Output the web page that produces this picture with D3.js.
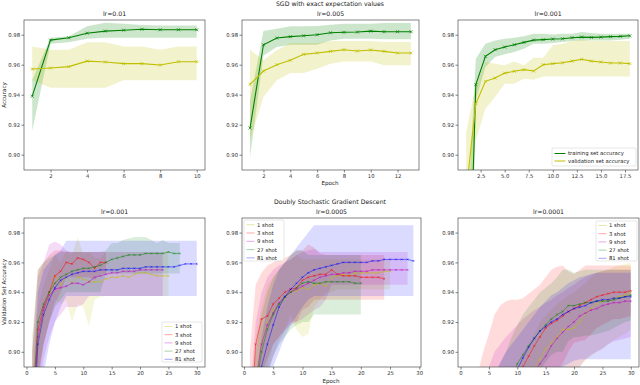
<!DOCTYPE html>
<html>
<head>
<meta charset="utf-8">
<script src="https://cdn.jsdelivr.net/npm/d3@7"></script>
<style>
  body { margin: 0; background: #fff; }
  text { font-family: "DejaVu Sans", sans-serif; }
</style>
</head>
<body>
<div id="chart"></div>
<script>
// ---- SGD with exact expectation values (top row) ----
// lr=0.01, epochs 1..10
const p1TrainMean = [0.939, 0.9764, 0.978, 0.981, 0.9824, 0.983, 0.9836, 0.9833, 0.9833, 0.9833];
const p1TrainLo   = [0.916, 0.974, 0.975, 0.9773, 0.978, 0.978, 0.978, 0.978, 0.978, 0.978];
const p1TrainHi   = [0.9496, 0.978, 0.979, 0.9856, 0.988, 0.9873, 0.9864, 0.9862, 0.9862, 0.9862];
const p1ValMean   = [0.9571, 0.9578, 0.9587, 0.9624, 0.9618, 0.9607, 0.9607, 0.9598, 0.962, 0.962];
const p1ValLo     = [0.9496, 0.9447, 0.9447, 0.9447, 0.9447, 0.9496, 0.9496, 0.9496, 0.9496, 0.9496];
const p1ValHi     = [0.9722, 0.97, 0.97, 0.975, 0.975, 0.9722, 0.9722, 0.97, 0.9722, 0.9722];

// lr=0.005, epochs 1..13
const p2TrainMean = [0.9178, 0.9733, 0.9778, 0.9787, 0.9793, 0.98, 0.9813, 0.9816, 0.9818, 0.9824, 0.982, 0.982, 0.982];
const p2TrainLo   = [0.8984, 0.9662, 0.9718, 0.9733, 0.9733, 0.9733, 0.9762, 0.9773, 0.9773, 0.9773, 0.9769, 0.9769, 0.9769];
const p2TrainHi   = [0.9362, 0.9824, 0.984, 0.9856, 0.9856, 0.9858, 0.9867, 0.9873, 0.9873, 0.9873, 0.9878, 0.9878, 0.9878];
const p2ValMean   = [0.9469, 0.9558, 0.96, 0.9629, 0.9669, 0.9678, 0.9689, 0.97, 0.9691, 0.9698, 0.9689, 0.9678, 0.9678];
const p2ValLo     = [0.9096, 0.9384, 0.9496, 0.9544, 0.9544, 0.9573, 0.9607, 0.9622, 0.9622, 0.9622, 0.9596, 0.9596, 0.9596];
const p2ValHi     = [0.97, 0.9629, 0.9696, 0.9744, 0.9744, 0.9744, 0.9758, 0.9758, 0.9758, 0.9758, 0.9751, 0.9751, 0.9751];

// lr=0.001, epochs 1..18
const p3TrainMean = [0.73, 0.9467, 0.9656, 0.97, 0.9718, 0.9733, 0.9749, 0.9764, 0.9767, 0.9771, 0.9773, 0.978, 0.9784, 0.9782, 0.9784, 0.9787, 0.9789, 0.9793];
const p3TrainLo   = [0.62, 0.9362, 0.9584, 0.9651, 0.9669, 0.9684, 0.9707, 0.974, 0.974, 0.9744, 0.9751, 0.9758, 0.9762, 0.9762, 0.9762, 0.9762, 0.9767, 0.9773];
const p3TrainHi   = [0.84, 0.964, 0.974, 0.9762, 0.9773, 0.978, 0.9789, 0.9807, 0.9807, 0.9802, 0.9807, 0.9807, 0.9818, 0.9811, 0.9807, 0.9807, 0.9807, 0.9807];
const p3ValMean   = [0.875, 0.934, 0.9489, 0.9511, 0.9544, 0.9556, 0.9567, 0.9558, 0.96, 0.9607, 0.9613, 0.9624, 0.9636, 0.9624, 0.9618, 0.9611, 0.9611, 0.9607];
const p3ValLo     = [0.84, 0.9096, 0.9307, 0.9384, 0.9473, 0.9473, 0.9507, 0.95, 0.9522, 0.9522, 0.9522, 0.9522, 0.9522, 0.9522, 0.9522, 0.9522, 0.9522, 0.9522];
const p3ValHi     = [0.9151, 0.9462, 0.9618, 0.9607, 0.9596, 0.9622, 0.9596, 0.9647, 0.9647, 0.9729, 0.974, 0.9758, 0.9767, 0.9758, 0.9758, 0.9758, 0.9758, 0.9758];

// ---- Doubly Stochastic Gradient Descent (bottom row) ----
// lr=0.001
const p4Shot1Mean  = [0.84, 0.905, 0.925, 0.938, 0.951, 0.945, 0.95, 0.946, 0.95, 0.949, 0.947, 0.947, 0.947, 0.949, 0.95, 0.95, 0.951, 0.95, 0.952, 0.953, 0.953, 0.952, 0.951, 0.951, 0.951];
const p4Shot1Lo    = [0.78, 0.88, 0.905, 0.92, 0.935, 0.932, 0.935, 0.92, 0.932, 0.93, 0.917, 0.935, 0.937, 0.9375, 0.9375, 0.9375, 0.9375, 0.9375, 0.9375, 0.9375, 0.9375, 0.9375, 0.9375, 0.9375, 0.9375];
const p4Shot1Hi    = [0.9, 0.93, 0.945, 0.955, 0.965, 0.96, 0.968, 0.965, 0.977, 0.966, 0.967, 0.963, 0.963, 0.967, 0.967, 0.967, 0.967, 0.967, 0.967, 0.967, 0.967, 0.967, 0.967, 0.967, 0.967];
const p4Shot3Mean  = [0.85, 0.915, 0.93, 0.94, 0.951, 0.954, 0.96, 0.959, 0.963, 0.962, 0.96, 0.956, 0.96, 0.96];
const p4Shot3Lo    = [0.8, 0.88, 0.905, 0.92, 0.932, 0.94, 0.95, 0.95, 0.95, 0.95, 0.95, 0.948, 0.952, 0.952];
const p4Shot3Hi    = [0.9, 0.955, 0.96, 0.965, 0.968, 0.968, 0.967, 0.967, 0.967, 0.967, 0.967, 0.967, 0.967, 0.967];
const p4Shot9Mean  = [0.85, 0.91, 0.928, 0.938, 0.942, 0.943, 0.944, 0.946, 0.946, 0.945, 0.947, 0.95, 0.951, 0.952, 0.953, 0.953, 0.954, 0.954, 0.954, 0.955, 0.955, 0.955, 0.955, 0.955];
const p4Shot9Lo    = [0.8, 0.87, 0.895, 0.91, 0.92, 0.925, 0.93, 0.93, 0.93, 0.932, 0.9375, 0.9375, 0.9375, 0.9375, 0.9375, 0.9375, 0.9375, 0.9375, 0.9375, 0.9375, 0.9375, 0.9375, 0.9375, 0.9375];
const p4Shot9Hi    = [0.9, 0.95, 0.96, 0.972, 0.974, 0.972, 0.968, 0.967, 0.967, 0.967, 0.967, 0.967, 0.967, 0.967, 0.967, 0.967, 0.967, 0.967, 0.967, 0.967, 0.967, 0.967, 0.967, 0.967];
const p4Shot27Mean = [0.86, 0.92, 0.932, 0.94, 0.946, 0.95, 0.952, 0.954, 0.955, 0.956, 0.956, 0.957, 0.958, 0.96, 0.962, 0.963, 0.964, 0.965, 0.965, 0.965, 0.966, 0.966, 0.966, 0.966, 0.967, 0.966, 0.966];
const p4Shot27Lo   = [0.81, 0.885, 0.905, 0.92, 0.93, 0.935, 0.94, 0.94, 0.94, 0.94, 0.94, 0.94, 0.94, 0.9525, 0.9525, 0.9525, 0.9525, 0.9525, 0.9525, 0.9525, 0.9525, 0.9525, 0.9525, 0.9525, 0.9525, 0.9525, 0.9525];
const p4Shot27Hi   = [0.91, 0.955, 0.96, 0.963, 0.965, 0.967, 0.967, 0.967, 0.967, 0.967, 0.967, 0.967, 0.967, 0.968, 0.973, 0.973, 0.975, 0.976, 0.977, 0.977, 0.977, 0.975, 0.973, 0.975, 0.973, 0.973, 0.973];
const p4Shot81Mean = [0.83, 0.905, 0.925, 0.935, 0.943, 0.948, 0.95, 0.952, 0.953, 0.954, 0.954, 0.954, 0.955, 0.955, 0.955, 0.955, 0.956, 0.956, 0.956, 0.956, 0.957, 0.957, 0.957, 0.957, 0.957, 0.957, 0.958, 0.959, 0.959, 0.959];
const p4Shot81Lo   = [0.78, 0.86, 0.885, 0.905, 0.92, 0.93, 0.9375, 0.9375, 0.9375, 0.9375, 0.9375, 0.9375, 0.9375, 0.9375, 0.9375, 0.9375, 0.9375, 0.9375, 0.9375, 0.9375, 0.9375, 0.9375, 0.9375, 0.9375, 0.9375, 0.9375, 0.9375, 0.9375, 0.9375, 0.9375];
const p4Shot81Hi   = [0.87, 0.94, 0.955, 0.96, 0.965, 0.968, 0.9745, 0.9745, 0.9745, 0.9745, 0.9745, 0.9745, 0.9745, 0.9745, 0.9745, 0.9745, 0.9745, 0.9745, 0.9745, 0.9745, 0.9745, 0.9745, 0.9745, 0.9745, 0.9745, 0.9745, 0.9745, 0.9745, 0.9745, 0.9745];

// lr=0.0005
const p5Shot1Mean  = [0.83, 0.875, 0.905, 0.92, 0.928, 0.932, 0.936, 0.94, 0.941, 0.943, 0.942, 0.945, 0.946, 0.944, 0.95, 0.951, 0.952, 0.951, 0.953, 0.953, 0.953, 0.953, 0.953, 0.954, 0.954];
const p5Shot1Lo    = [0.8, 0.84, 0.87, 0.89, 0.905, 0.91, 0.915, 0.925, 0.915, 0.91, 0.912, 0.93, 0.935, 0.94, 0.94, 0.942, 0.942, 0.942, 0.942, 0.942, 0.942, 0.942, 0.942, 0.942, 0.942];
const p5Shot1Hi    = [0.86, 0.91, 0.93, 0.945, 0.95, 0.955, 0.96, 0.962, 0.965, 0.962, 0.962, 0.962, 0.962, 0.962, 0.962, 0.962, 0.962, 0.962, 0.962, 0.962, 0.962, 0.962, 0.962, 0.962, 0.962];
const p5Shot3Mean  = [0.84, 0.905, 0.922, 0.924, 0.932, 0.936, 0.94, 0.942, 0.943, 0.948, 0.95, 0.951, 0.952, 0.952, 0.955, 0.952, 0.951, 0.951, 0.951, 0.95, 0.95, 0.95, 0.95, 0.949];
const p5Shot3Lo    = [0.79, 0.86, 0.885, 0.895, 0.905, 0.91, 0.915, 0.92, 0.92, 0.928, 0.93, 0.935, 0.935, 0.935, 0.935, 0.935, 0.935, 0.935, 0.935, 0.935, 0.935, 0.935, 0.935, 0.935];
const p5Shot3Hi    = [0.9, 0.945, 0.953, 0.958, 0.96, 0.962, 0.963, 0.965, 0.968, 0.968, 0.972, 0.97, 0.966, 0.965, 0.965, 0.965, 0.965, 0.965, 0.965, 0.965, 0.965, 0.965, 0.965, 0.965];
const p5Shot9Mean  = [0.83, 0.88, 0.905, 0.918, 0.926, 0.933, 0.937, 0.94, 0.942, 0.944, 0.946, 0.948, 0.95, 0.951, 0.952, 0.952, 0.953, 0.953, 0.954, 0.954, 0.954, 0.955, 0.955, 0.955, 0.955, 0.955, 0.955, 0.955];
const p5Shot9Lo    = [0.79, 0.84, 0.87, 0.885, 0.897, 0.907, 0.914, 0.918, 0.92, 0.922, 0.925, 0.928, 0.93, 0.935, 0.945, 0.945, 0.945, 0.945, 0.945, 0.945, 0.945, 0.945, 0.945, 0.945, 0.945, 0.945, 0.945, 0.945];
const p5Shot9Hi    = [0.87, 0.92, 0.94, 0.95, 0.955, 0.958, 0.96, 0.962, 0.965, 0.967, 0.968, 0.969, 0.967, 0.967, 0.967, 0.967, 0.967, 0.967, 0.967, 0.967, 0.967, 0.967, 0.967, 0.967, 0.967, 0.967, 0.967, 0.967];
const p5Shot27Mean = [0.83, 0.875, 0.9, 0.915, 0.925, 0.932, 0.937, 0.94, 0.943, 0.946, 0.947, 0.946, 0.946, 0.947, 0.947, 0.947, 0.947, 0.947, 0.946, 0.946];
const p5Shot27Lo   = [0.8, 0.84, 0.87, 0.885, 0.897, 0.905, 0.91, 0.915, 0.918, 0.92, 0.92, 0.925, 0.925, 0.925, 0.925, 0.925, 0.925, 0.925, 0.925, 0.925];
const p5Shot27Hi   = [0.85, 0.9, 0.925, 0.94, 0.95, 0.955, 0.96, 0.965, 0.968, 0.968, 0.965, 0.965, 0.965, 0.965, 0.965, 0.965, 0.965, 0.965, 0.965, 0.965];
const p5Shot81Mean = [0.82, 0.86, 0.89, 0.905, 0.918, 0.93, 0.937, 0.942, 0.946, 0.95, 0.953, 0.955, 0.956, 0.957, 0.958, 0.959, 0.96, 0.96, 0.96, 0.96, 0.96, 0.961, 0.961, 0.962, 0.962, 0.962, 0.962, 0.962, 0.961];
const p5Shot81Lo   = [0.78, 0.82, 0.85, 0.87, 0.89, 0.9, 0.91, 0.918, 0.924, 0.93, 0.935, 0.9375, 0.9375, 0.9375, 0.9375, 0.9375, 0.9375, 0.9375, 0.9375, 0.9375, 0.9375, 0.9375, 0.9375, 0.9375, 0.9375, 0.9375, 0.9375, 0.9375, 0.9375];
const p5Shot81Hi   = [0.84, 0.88, 0.91, 0.93, 0.945, 0.955, 0.96, 0.965, 0.97, 0.975, 0.98, 0.985, 0.985, 0.985, 0.985, 0.985, 0.985, 0.985, 0.985, 0.985, 0.985, 0.985, 0.985, 0.985, 0.985, 0.985, 0.985, 0.985, 0.985];

// lr=0.0001, epochs 1..30
const p6Shot1Mean  = [0.70, 0.72, 0.74, 0.76, 0.78, 0.80, 0.815, 0.83, 0.842, 0.855, 0.868, 0.878, 0.888, 0.895, 0.902, 0.906, 0.91, 0.915, 0.915, 0.916, 0.92, 0.926, 0.929, 0.932, 0.934, 0.935, 0.936, 0.937, 0.938, 0.94];
const p6Shot1Lo    = [0.62, 0.64, 0.66, 0.68, 0.70, 0.72, 0.74, 0.76, 0.78, 0.80, 0.815, 0.83, 0.845, 0.855, 0.862, 0.868, 0.872, 0.878, 0.882, 0.885, 0.89, 0.894, 0.897, 0.9, 0.902, 0.905, 0.908, 0.91, 0.912, 0.915];
const p6Shot1Hi    = [0.78, 0.80, 0.82, 0.835, 0.85, 0.86, 0.87, 0.878, 0.885, 0.89, 0.898, 0.905, 0.912, 0.92, 0.924, 0.928, 0.932, 0.935, 0.938, 0.94, 0.943, 0.946, 0.95, 0.953, 0.954, 0.955, 0.957, 0.958, 0.959, 0.96];
const p6Shot3Mean  = [0.72, 0.74, 0.76, 0.78, 0.80, 0.82, 0.835, 0.85, 0.865, 0.878, 0.89, 0.897, 0.904, 0.91, 0.916, 0.919, 0.921, 0.924, 0.927, 0.929, 0.931, 0.933, 0.935, 0.937, 0.938, 0.939, 0.94, 0.94, 0.94, 0.941];
const p6Shot3Lo    = [0.61, 0.62, 0.635, 0.66, 0.69, 0.715, 0.74, 0.765, 0.795, 0.82, 0.84, 0.85, 0.86, 0.87, 0.88, 0.885, 0.888, 0.892, 0.9, 0.906, 0.907, 0.908, 0.912, 0.916, 0.918, 0.92, 0.922, 0.922, 0.923, 0.924];
const p6Shot3Hi    = [0.83, 0.86, 0.885, 0.9, 0.912, 0.925, 0.931, 0.934, 0.935, 0.935, 0.936, 0.939, 0.942, 0.945, 0.95, 0.955, 0.957, 0.958, 0.954, 0.952, 0.955, 0.958, 0.958, 0.958, 0.958, 0.958, 0.958, 0.958, 0.958, 0.958];
const p6Shot9Mean  = [0.68, 0.70, 0.72, 0.74, 0.76, 0.78, 0.80, 0.82, 0.835, 0.85, 0.862, 0.875, 0.887, 0.892, 0.897, 0.904, 0.909, 0.913, 0.917, 0.92, 0.924, 0.926, 0.928, 0.929, 0.931, 0.932, 0.933, 0.933, 0.934, 0.934];
const p6Shot9Lo    = [0.56, 0.57, 0.59, 0.61, 0.63, 0.66, 0.69, 0.72, 0.75, 0.77, 0.79, 0.81, 0.83, 0.845, 0.855, 0.862, 0.868, 0.874, 0.88, 0.885, 0.89, 0.895, 0.898, 0.9, 0.902, 0.905, 0.907, 0.908, 0.909, 0.91];
const p6Shot9Hi    = [0.80, 0.83, 0.85, 0.87, 0.89, 0.9, 0.905, 0.91, 0.914, 0.918, 0.922, 0.925, 0.928, 0.93, 0.933, 0.935, 0.938, 0.94, 0.943, 0.945, 0.948, 0.95, 0.952, 0.953, 0.954, 0.955, 0.955, 0.955, 0.955, 0.955];
const p6Shot27Mean = [0.72, 0.745, 0.77, 0.79, 0.81, 0.83, 0.85, 0.865, 0.88, 0.892, 0.898, 0.904, 0.909, 0.914, 0.918, 0.922, 0.925, 0.927, 0.931, 0.931, 0.932, 0.933, 0.933, 0.934, 0.934, 0.934, 0.935, 0.936, 0.937, 0.938];
const p6Shot27Lo   = [0.64, 0.67, 0.70, 0.72, 0.745, 0.775, 0.805, 0.83, 0.85, 0.865, 0.872, 0.878, 0.884, 0.888, 0.893, 0.898, 0.9, 0.9, 0.907, 0.91, 0.91, 0.911, 0.911, 0.912, 0.913, 0.914, 0.916, 0.918, 0.92, 0.921];
const p6Shot27Hi   = [0.80, 0.82, 0.84, 0.86, 0.875, 0.885, 0.892, 0.9, 0.91, 0.918, 0.925, 0.93, 0.935, 0.94, 0.943, 0.946, 0.95, 0.955, 0.955, 0.953, 0.954, 0.955, 0.955, 0.955, 0.955, 0.955, 0.955, 0.955, 0.955, 0.955];
const p6Shot81Mean = [0.70, 0.725, 0.75, 0.775, 0.80, 0.82, 0.84, 0.857, 0.872, 0.888, 0.896, 0.903, 0.909, 0.914, 0.917, 0.92, 0.922, 0.925, 0.927, 0.929, 0.93, 0.931, 0.933, 0.934, 0.935, 0.935, 0.936, 0.936, 0.937, 0.937];
const p6Shot81Lo   = [0.60, 0.63, 0.66, 0.69, 0.72, 0.75, 0.78, 0.80, 0.82, 0.84, 0.85, 0.857, 0.863, 0.868, 0.873, 0.88, 0.885, 0.89, 0.892, 0.894, 0.895, 0.895, 0.895, 0.895, 0.895, 0.895, 0.895, 0.895, 0.895, 0.895];
const p6Shot81Hi   = [0.80, 0.82, 0.84, 0.855, 0.87, 0.885, 0.893, 0.9, 0.905, 0.91, 0.915, 0.92, 0.925, 0.93, 0.934, 0.938, 0.94, 0.943, 0.946, 0.948, 0.95, 0.951, 0.952, 0.953, 0.953, 0.953, 0.953, 0.953, 0.953, 0.953];

const topLabels = ["training set accuracy", "validation set accuracy"];
const shotLabels = ["1 shot", "3 shot", "9 shot", "27 shot", "81 shot"];
const yTicks = [0.90, 0.92, 0.94, 0.96, 0.98];

const C = { g: "#008000", y: "#bfbf00", r: "#ff0000", m: "#bf00bf", b: "#0000ff" };
const shotColors = [C.y, C.r, C.m, C.g, C.b];

const svg = d3.select("#chart").append("svg")
  .attr("width", 640)
  .attr("height", 385);

svg.append("rect").attr("width", 640).attr("height", 385).attr("fill", "#fff");

let clipCount = 0;

function drawPanel(cfg) {
  const x = d3.scaleLinear().domain(cfg.xDomain).range([cfg.left, cfg.right]);
  const y = d3.scaleLinear().domain([0.8898, 0.9898]).range([cfg.bottom, cfg.top]);

  const clipId = "clip" + (clipCount++);
  svg.append("clipPath").attr("id", clipId)
    .append("rect")
    .attr("x", cfg.left).attr("y", cfg.top)
    .attr("width", cfg.right - cfg.left).attr("height", cfg.bottom - cfg.top);

  const g = svg.append("g").attr("clip-path", `url(#${clipId})`);

  const rows = cfg.series.map(s => s.mean.map((m, i) => ({ e: i + 1, m: m, lo: s.lo[i], hi: s.hi[i] })));

  // bands first (matplotlib puts fill_between under lines)
  cfg.series.forEach((s, k) => {
    g.append("path")
      .datum(rows[k])
      .attr("d", d3.area().x(d => x(d.e)).y0(d => y(d.lo)).y1(d => y(d.hi)))
      .attr("fill", s.color)
      .attr("fill-opacity", cfg.bandOpacity);
  });

  cfg.series.forEach((s, k) => {
    g.append("path")
      .datum(rows[k])
      .attr("d", d3.line().x(d => x(d.e)).y(d => y(d.m)))
      .attr("fill", "none")
      .attr("stroke", s.color)
      .attr("stroke-opacity", cfg.lineOpacity)
      .attr("stroke-width", cfg.lineWidth);

    const ms = cfg.markerSize;
    g.selectAll(null)
      .data(rows[k])
      .join("path")
      .attr("d", d => {
        const cx = x(d.e), cy = y(d.m);
        return `M${cx - ms},${cy - ms}L${cx + ms},${cy + ms}M${cx - ms},${cy + ms}L${cx + ms},${cy - ms}`;
      })
      .attr("stroke", s.color)
      .attr("stroke-opacity", cfg.lineOpacity)
      .attr("stroke-width", 0.7);
  });

  // axes
  const xAxis = svg.append("g")
    .attr("transform", `translate(0,${cfg.bottom})`)
    .call(d3.axisBottom(x).tickValues(cfg.xTicks).tickFormat(cfg.xFormat)
      .tickSizeInner(2.5).tickSizeOuter(0).tickPadding(1.5));
  const yAxis = svg.append("g")
    .attr("transform", `translate(${cfg.left},0)`)
    .call(d3.axisLeft(y).tickValues(yTicks).tickFormat(d3.format(".2f"))
      .tickSizeInner(2.5).tickSizeOuter(0).tickPadding(1.5));
  [xAxis, yAxis].forEach(a => {
    a.select(".domain").remove();
    a.selectAll(".tick line").attr("stroke", "#333").attr("stroke-width", 0.6);
    a.selectAll(".tick text")
      .attr("fill", "#333")
      .style("font-size", "5.3px")
      .style("font-family", "DejaVu Sans");
  });

  svg.append("rect")
    .attr("x", cfg.left).attr("y", cfg.top)
    .attr("width", cfg.right - cfg.left).attr("height", cfg.bottom - cfg.top)
    .attr("fill", "none")
    .attr("stroke", "#333")
    .attr("stroke-width", 0.6);

  svg.append("text")
    .attr("x", (cfg.left + cfg.right) / 2)
    .attr("y", cfg.top - 4.5)
    .attr("text-anchor", "middle")
    .style("font-size", "6.2px")
    .attr("fill", "#222")
    .text(cfg.title);

  if (cfg.legend) {
    const L = cfg.legend;
    const lg = svg.append("g").attr("transform", `translate(${L.x},${L.y})`);
    lg.append("rect")
      .attr("width", L.w).attr("height", L.h)
      .attr("rx", 1.2)
      .attr("fill", "#fff").attr("fill-opacity", 0.8)
      .attr("stroke", "#ccc").attr("stroke-width", 0.5);
    cfg.series.forEach((s, k) => {
      const cy = L.pad + k * L.step;
      lg.append("line")
        .attr("x1", 2.5).attr("x2", 2.5 + L.lineLen)
        .attr("y1", cy).attr("y2", cy)
        .attr("stroke", s.color)
        .attr("stroke-opacity", L.opacity)
        .attr("stroke-width", 1);
      lg.append("text")
        .attr("x", 5 + L.lineLen)
        .attr("y", cy + 1.9)
        .style("font-size", "5.3px")
        .attr("fill", "#222")
        .text(s.label);
    });
  }
}

const topSeries = (tm, tl, th, vm, vl, vh) => [
  { label: topLabels[0], color: C.g, mean: tm, lo: tl, hi: th },
  { label: topLabels[1], color: C.y, mean: vm, lo: vl, hi: vh }
];

const topStyle = { bandOpacity: 0.2, lineOpacity: 1, lineWidth: 1.1, markerSize: 1.5 };
const botStyle = { bandOpacity: 0.14, lineOpacity: 0.65, lineWidth: 0.75, markerSize: 0.9 };

drawPanel(Object.assign({
  title: "lr=0.01", left: 24, right: 205, top: 20, bottom: 170,
  xDomain: [0.55, 10.45], xTicks: [2, 4, 6, 8, 10], xFormat: d3.format("d"),
  series: topSeries(p1TrainMean, p1TrainLo, p1TrainHi, p1ValMean, p1ValLo, p1ValHi)
}, topStyle));

drawPanel(Object.assign({
  title: "lr=0.005", left: 242, right: 419, top: 20, bottom: 170,
  xDomain: [0.4, 13.6], xTicks: [2, 4, 6, 8, 10, 12], xFormat: d3.format("d"),
  series: topSeries(p2TrainMean, p2TrainLo, p2TrainHi, p2ValMean, p2ValLo, p2ValHi)
}, topStyle));

drawPanel(Object.assign({
  title: "lr=0.001", left: 458, right: 638, top: 20, bottom: 170,
  xDomain: [0.15, 18.85], xTicks: [2.5, 5, 7.5, 10, 12.5, 15, 17.5], xFormat: d3.format(".1f"),
  series: topSeries(p3TrainMean, p3TrainLo, p3TrainHi, p3ValMean, p3ValLo, p3ValHi),
  legend: { x: 552, y: 148, w: 84, h: 18, pad: 5.5, step: 7.5, lineLen: 11, opacity: 1 }
}, topStyle));

const shotSeries = (arrs) => arrs.map((a, k) => ({
  label: shotLabels[k], color: shotColors[k], mean: a[0], lo: a[1], hi: a[2]
}));

const shotTicks = [0, 5, 10, 15, 20, 25, 30];

drawPanel(Object.assign({
  title: "lr=0.001", left: 24, right: 205, top: 218, bottom: 367,
  xDomain: [-0.45, 31.45], xTicks: shotTicks, xFormat: d3.format("d"),
  series: shotSeries([
    [p4Shot1Mean, p4Shot1Lo, p4Shot1Hi], [p4Shot3Mean, p4Shot3Lo, p4Shot3Hi],
    [p4Shot9Mean, p4Shot9Lo, p4Shot9Hi], [p4Shot27Mean, p4Shot27Lo, p4Shot27Hi],
    [p4Shot81Mean, p4Shot81Lo, p4Shot81Hi]]),
  legend: { x: 162, y: 322, w: 40, h: 40, pad: 4.5, step: 8.2, lineLen: 8, opacity: 0.35 }
}, botStyle));

drawPanel(Object.assign({
  title: "lr=0.0005", left: 242, right: 421, top: 218, bottom: 367,
  xDomain: [-0.34, 30.3], xTicks: shotTicks, xFormat: d3.format("d"),
  series: shotSeries([
    [p5Shot1Mean, p5Shot1Lo, p5Shot1Hi], [p5Shot3Mean, p5Shot3Lo, p5Shot3Hi],
    [p5Shot9Mean, p5Shot9Lo, p5Shot9Hi], [p5Shot27Mean, p5Shot27Lo, p5Shot27Hi],
    [p5Shot81Mean, p5Shot81Lo, p5Shot81Hi]]),
  legend: { x: 244, y: 220, w: 40, h: 41, pad: 4.7, step: 8.3, lineLen: 8, opacity: 0.35 }
}, botStyle));

drawPanel(Object.assign({
  title: "lr=0.0001", left: 458, right: 639, top: 218, bottom: 367,
  xDomain: [-0.45, 31.45], xTicks: shotTicks, xFormat: d3.format("d"),
  series: shotSeries([
    [p6Shot1Mean, p6Shot1Lo, p6Shot1Hi], [p6Shot3Mean, p6Shot3Lo, p6Shot3Hi],
    [p6Shot9Mean, p6Shot9Lo, p6Shot9Hi], [p6Shot27Mean, p6Shot27Lo, p6Shot27Hi],
    [p6Shot81Mean, p6Shot81Lo, p6Shot81Hi]]),
  legend: { x: 596, y: 221, w: 41, h: 40, pad: 4.5, step: 8.2, lineLen: 8, opacity: 0.35 }
}, botStyle));

// suptitles and axis labels
const labels = [
  { t: "SGD with exact expectation values", x: 330, y: 5.5, size: 6.2 },
  { t: "Doubly Stochastic Gradient Descent", x: 330, y: 203.5, size: 6.2 },
  { t: "Epoch", x: 330, y: 185, size: 5.6 },
  { t: "Epoch", x: 331, y: 383, size: 5.6 }
];
labels.forEach(l => {
  svg.append("text")
    .attr("x", l.x).attr("y", l.y)
    .attr("text-anchor", "middle")
    .style("font-size", l.size + "px")
    .attr("fill", "#222")
    .text(l.t);
});

svg.append("text")
  .attr("transform", "translate(5.5,95) rotate(-90)")
  .attr("text-anchor", "middle")
  .style("font-size", "5.6px")
  .attr("fill", "#222")
  .text("Accuracy");

svg.append("text")
  .attr("transform", "translate(5.5,292) rotate(-90)")
  .attr("text-anchor", "middle")
  .style("font-size", "5.6px")
  .attr("fill", "#222")
  .text("Validation Set Accuracy");
</script>
</body>
</html>
